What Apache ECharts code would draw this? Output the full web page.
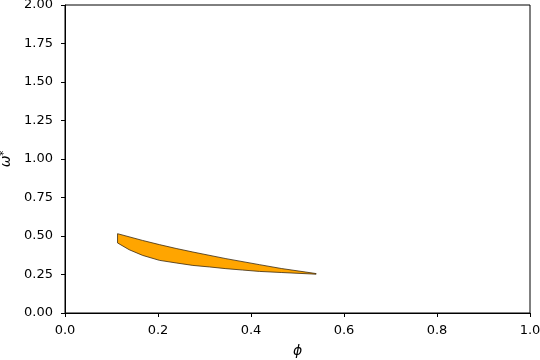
<!DOCTYPE html>
<html>
<head>
<meta charset="utf-8">
<script src="https://cdn.jsdelivr.net/npm/echarts@6/dist/echarts.min.js"></script>
<style>html,body{margin:0;padding:0;background:#fff;}#c{width:540px;height:360px;}</style>
</head>
<body>
<div id="c"></div>
<script>
// Upper boundary of the region (phi, omega*)
const phiUpper   = [0.113, 0.167, 0.203, 0.239, 0.275, 0.346, 0.418, 0.465, 0.540];
const omegaUpper = [0.515, 0.471, 0.444, 0.419, 0.396, 0.353, 0.314, 0.289, 0.256];
// Lower boundary of the region
const phiLower   = [0.113, 0.138, 0.167, 0.203, 0.239, 0.275, 0.311, 0.346, 0.382, 0.418, 0.465, 0.540];
const omegaLower = [0.455, 0.411, 0.374, 0.342, 0.325, 0.309, 0.299, 0.288, 0.279, 0.270, 0.263, 0.252];
const xTicks = [0.0, 0.2, 0.4, 0.6, 0.8, 1.0];
const yTicks = [0.00, 0.25, 0.50, 0.75, 1.00, 1.25, 1.50, 1.75, 2.00];

// polygon: upper left->right, then lower right->left
const poly = [];
for (let i = 0; i < phiUpper.length; i++) poly.push([phiUpper[i], omegaUpper[i]]);
for (let i = phiLower.length - 1; i >= 0; i--) poly.push([phiLower[i], omegaLower[i]]);

const font = 'DejaVu Sans';
const chart = echarts.init(document.getElementById('c'), null, {renderer: 'canvas'});
chart.setOption({
  animation: false,
  backgroundColor: '#fff',
  grid: {left: 65, right: 10, top: 5, bottom: 47, containLabel: false, outerBoundsMode: 'none',
    show: true, borderColor: '#000', borderWidth: 1, backgroundColor: 'transparent'},
  xAxis: {
    type: 'value', min: 0, max: 1, interval: 0.2,
    name: 'ϕ', nameLocation: 'middle', nameGap: 31,
    nameTextStyle: {fontFamily: font, fontSize: 14, color: '#000', fontStyle: 'italic'},
    axisLine: {show: true, onZero: false, lineStyle: {color: '#000', width: 1}},
    axisTick: {show: true, length: 4, lineStyle: {color: '#000'}},
    axisLabel: {fontFamily: font, fontSize: 13, color: '#000', margin: 11,
      formatter: v => v.toFixed(1)},
    splitLine: {show: false}
  },
  yAxis: {
    type: 'value', min: 0, max: 2, interval: 0.25,
    name: '{w|ω}{s|*}', nameLocation: 'middle', nameGap: 37, nameRotate: 90,
    nameTextStyle: {fontFamily: font, color: '#000', align: 'center', verticalAlign: 'middle',
      rich: {w: {fontFamily: font, fontSize: 14, fontStyle: 'italic', color: '#000', verticalAlign: 'bottom'},
             s: {fontFamily: font, fontSize: 10, color: '#000', verticalAlign: 'top'}}},
    axisLine: {show: true, onZero: false, lineStyle: {color: '#000', width: 1}},
    axisTick: {show: true, length: 4, lineStyle: {color: '#000'}},
    axisLabel: {fontFamily: font, fontSize: 13, color: '#000', margin: 12,
      formatter: v => v.toFixed(2)},
    splitLine: {show: false}
  },
  series: [{
    type: 'custom',
    coordinateSystem: 'cartesian2d',
    data: [0],
    renderItem: function (params, api) {
      const pts = poly.map(p => api.coord(p));
      return {
        type: 'polygon',
        shape: {points: pts, smooth: 0},
        style: {fill: '#FFA500', stroke: '#3a2a10', lineWidth: 0.8}
      };
    },
    silent: true
  }]
});
</script>
</body>
</html>
